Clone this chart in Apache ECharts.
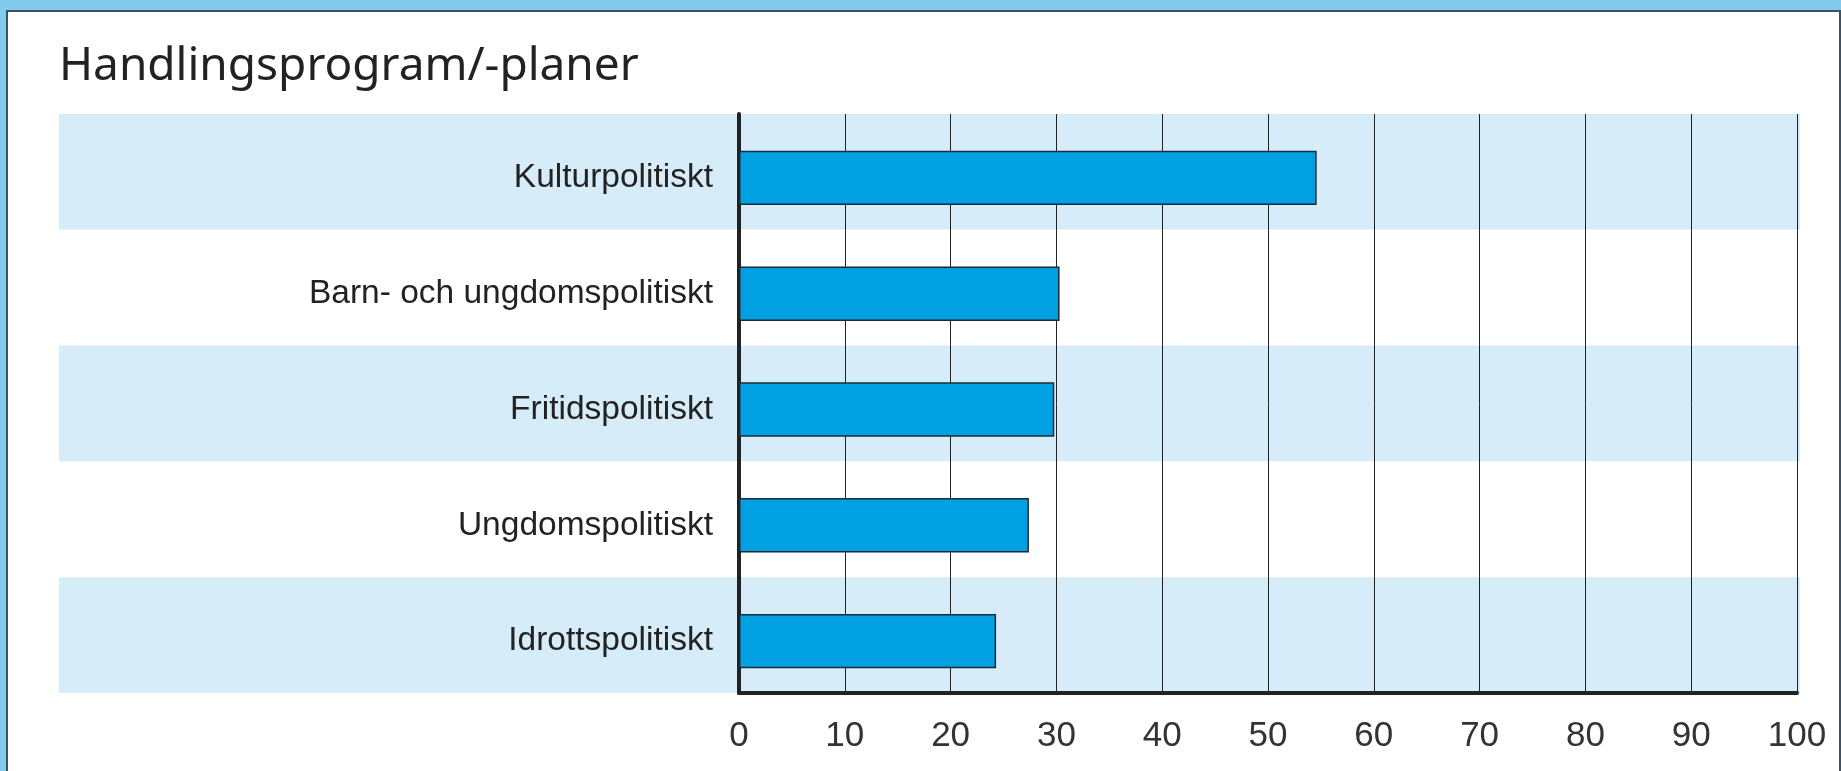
<!DOCTYPE html>
<html>
<head>
<meta charset="utf-8">
<script src="https://cdn.jsdelivr.net/npm/echarts@6/dist/echarts.min.js"></script>
<style>
    body { margin: 0; background: #82cbef; }
    #frame {
        position: absolute; left: 6px; top: 10px; width: 1831px; height: 800px;
        background: #fff; border: 2px solid #3b5263;
    }
    #main { position: absolute; left: 0; top: 0; width: 1841px; height: 771px; }
</style>
</head>
<body>
<div id="frame"></div>
<div id="main"></div>
<script>
var categories = ['Kulturpolitiskt', 'Barn- och ungdomspolitiskt', 'Fritidspolitiskt', 'Ungdomspolitiskt', 'Idrottspolitiskt'];
var values = [54.6, 30.3, 29.8, 27.4, 24.3];
var xTicks = [0, 10, 20, 30, 40, 50, 60, 70, 80, 90, 100];

var chart = echarts.init(document.getElementById('main'));
var option = {
    backgroundColor: 'transparent',
    animation: false,
    title: {
        text: 'Handlingsprogram/-planer',
        left: 59,
        top: 44,
        padding: 0,
        textStyle: {
            fontFamily: 'Noto Sans',
            fontWeight: 'normal',
            fontSize: 46,
            color: '#222'
        }
    },
    grid: [
        // background bands, reaching under the labels
        { left: 59, right: 41, top: 114, bottom: 78 },
        // axes and grid lines
        { left: 739, right: 44, top: 114, bottom: 78 },
        // bars and labels sit a little lower in their bands
        { left: 739, right: 44, top: 120, bottom: 72 }
    ],
    xAxis: [{
        gridIndex: 0,
        type: 'value',
        show: false
    }, {
        gridIndex: 1,
        type: 'value',
        min: xTicks[0],
        max: xTicks[xTicks.length - 1],
        interval: 10,
        axisLine: { show: true, lineStyle: { color: '#222', width: 4 } },
        axisTick: { show: false },
        splitLine: { show: true, lineStyle: { color: '#222', width: 1 } },
        axisLabel: {
            margin: 26,
            fontFamily: 'Liberation Sans',
            fontSize: 35,
            color: '#333'
        }
    }, {
        gridIndex: 2,
        type: 'value',
        min: xTicks[0],
        max: xTicks[xTicks.length - 1],
        show: false
    }],
    yAxis: [{
        gridIndex: 0,
        type: 'category',
        inverse: true,
        data: categories,
        axisLine: { show: false },
        axisTick: { show: false },
        axisLabel: { show: false },
        splitArea: { show: true, areaStyle: { color: ['#d6ecf9', '#ffffff'] } }
    }, {
        gridIndex: 1,
        type: 'category',
        inverse: true,
        data: categories,
        axisLine: { show: true, lineStyle: { color: '#222', width: 4 } },
        axisTick: { show: false },
        axisLabel: { show: false }
    }, {
        gridIndex: 2,
        type: 'category',
        inverse: true,
        data: categories,
        axisLine: { show: false },
        axisTick: { show: false },
        axisLabel: {
            margin: 26,
            fontFamily: 'Liberation Sans',
            fontSize: 33.5,
            color: '#222'
        }
    }],
    series: [{
        type: 'bar',
        xAxisIndex: 2,
        yAxisIndex: 2,
        data: values,
        barWidth: '47%',
        itemStyle: {
            color: '#00a0e3',
            borderColor: '#1b2b36',
            borderWidth: 1.5
        }
    }]
};
chart.setOption(option);
</script>
</body>
</html>
